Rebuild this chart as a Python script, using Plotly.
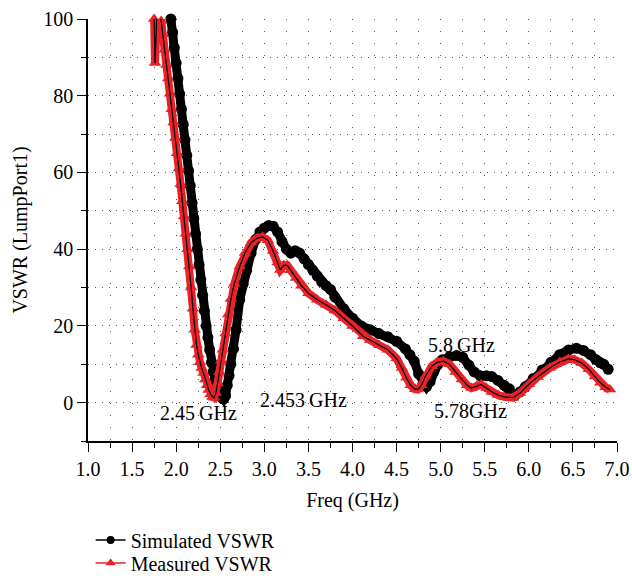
import plotly.graph_objects as go

# Simulated VSWR (LumpPort1) vs frequency, GHz
sim_freq = [1.94, 1.96, 1.98, 2.00, 2.02, 2.04, 2.06, 2.08, 2.10, 2.12, 2.14, 2.16, 2.18,
            2.20, 2.22, 2.24, 2.26, 2.28, 2.30, 2.32, 2.34, 2.36, 2.38, 2.40, 2.42, 2.44,
            2.46, 2.48, 2.50, 2.52, 2.54, 2.56, 2.58, 2.60, 2.62, 2.65, 2.68, 2.72, 2.76,
            2.80, 2.85, 2.90, 2.95, 3.00, 3.05, 3.10, 3.15, 3.20, 3.25, 3.30, 3.35, 3.40,
            3.45, 3.50, 3.55, 3.60, 3.65, 3.70, 3.75, 3.80, 3.90, 4.00, 4.10, 4.20, 4.30,
            4.40, 4.50, 4.60, 4.65, 4.70, 4.75, 4.80, 4.84, 4.88, 4.92, 4.97, 5.02, 5.10,
            5.18, 5.25, 5.32, 5.38, 5.45, 5.52, 5.58, 5.65, 5.72, 5.78, 5.84, 5.90, 5.96,
            6.05, 6.15, 6.25, 6.35, 6.45, 6.54, 6.62, 6.70, 6.76, 6.81, 6.85, 6.90]
sim_vswr = [100.0, 96.5, 92.5, 88.5, 84.5, 80.5, 76.5, 72.5, 68.5, 64.5, 60.5, 56.5, 52.0,
            48.0, 44.0, 40.0, 36.0, 32.0, 28.0, 24.0, 20.0, 17.0, 13.8, 10.5, 8.0, 6.0,
            4.5, 3.0, 2.0, 1.2, 1.0, 1.8, 4.5, 7.0, 10.0, 14.0, 19.0, 26.8, 31.0,
            34.5, 39.0, 42.5, 44.5, 45.5, 46.2, 46.0, 44.5, 42.0, 40.0, 39.0, 39.6, 39.0,
            37.5, 36.0, 34.5, 33.0, 31.5, 30.5, 29.5, 27.5, 24.5, 22.0, 20.0, 19.0, 18.0,
            17.2, 16.0, 14.0, 12.5, 10.8, 7.5, 5.0, 4.2, 5.5, 8.0, 10.0, 11.2, 12.0,
            12.3, 11.8, 9.8, 8.0, 7.0, 7.0, 6.8, 5.8, 4.5, 3.6, 1.8, 2.8, 4.2,
            6.3, 8.5, 10.5, 12.5, 13.7, 14.2, 13.6, 12.5, 11.2, 10.4, 10.0, 8.7]

# Measured VSWR vs frequency, GHz
meas_freq = [1.75, 1.76, 1.78, 1.81, 1.83, 1.85, 1.87, 1.89, 1.91, 1.93, 1.95, 1.97, 1.99,
             2.01, 2.03, 2.05, 2.07, 2.09, 2.11, 2.13, 2.15, 2.17, 2.19, 2.21, 2.23, 2.25,
             2.27, 2.29, 2.31, 2.33, 2.35, 2.37, 2.39, 2.41, 2.43, 2.45, 2.47, 2.49, 2.51,
             2.53, 2.56, 2.59, 2.62, 2.66, 2.72, 2.78, 2.85, 2.92, 2.98, 3.04, 3.10, 3.15,
             3.18, 3.22, 3.26, 3.30, 3.36, 3.42, 3.50, 3.60, 3.70, 3.80, 3.90, 4.00, 4.12,
             4.20, 4.30, 4.40, 4.50, 4.56, 4.61, 4.66, 4.71, 4.74, 4.78, 4.83, 4.90, 4.96,
             5.03, 5.10, 5.17, 5.24, 5.30, 5.35, 5.41, 5.46, 5.52, 5.58, 5.65, 5.72, 5.82,
             5.90, 6.00, 6.10, 6.24, 6.35, 6.45, 6.52, 6.60, 6.68, 6.75, 6.81, 6.87, 6.92]
meas_vswr = [100.0, 88.5, 101.0, 101.0, 99.5, 96.0, 92.0, 88.0, 84.5, 80.5, 76.5, 73.0, 69.0,
             65.0, 61.0, 57.0, 52.5, 48.5, 44.0, 40.0, 35.5, 30.0, 24.5, 19.0, 15.0, 12.5,
             10.5, 9.0, 7.7, 6.0, 4.5, 3.3, 2.2, 1.5, 1.3, 2.5, 5.0, 8.0, 11.0,
             13.8, 18.0, 23.0, 27.0, 31.0, 35.5, 39.0, 41.7, 42.9, 43.2, 42.3, 39.5, 36.5,
             34.6, 35.8, 35.8, 34.5, 32.5, 30.5, 28.5, 26.8, 25.5, 24.0, 22.0, 20.0, 17.3,
             16.3, 15.0, 13.8, 11.5, 9.0, 6.5, 4.5, 3.5, 3.4, 4.5, 7.0, 9.5, 10.5,
             10.8, 10.0, 8.0, 6.0, 4.5, 3.8, 4.4, 4.7, 3.8, 2.8, 2.0, 1.5, 1.3,
             2.5, 4.8, 6.7, 9.1, 10.6, 11.4, 11.2, 10.3, 8.7, 6.8, 5.2, 4.0, 3.4]

x_ticks = [1.0, 1.5, 2.0, 2.5, 3.0, 3.5, 4.0, 4.5, 5.0, 5.5, 6.0, 6.5, 7.0]
y_ticks = [0, 20, 40, 60, 80, 100]

# Frequency callouts: (text, freq, vswr position)
callout_text = ["2.45\u2009GHz", "2.453\u2009GHz", "5.8\u2009GHz", "5.78GHz"]
callout_freq = [2.248, 3.44, 5.238, 5.342]
callout_vswr = [-2.6, 0.6, 15.1, -2.3]

RED = "#ea2228"
FONT = "Liberation Serif"

fig = go.Figure()

# simulated: thick black band of circles
fig.add_trace(go.Scatter(
    x=sim_freq, y=sim_vswr, mode="lines+markers",
    line=dict(color="black", width=9),
    marker=dict(symbol="circle", size=11, color="black"),
    cliponaxis=False, showlegend=False, hoverinfo="skip"))

# measured: red band of triangles with thin black centre line
fig.add_trace(go.Scatter(
    x=meas_freq, y=meas_vswr, mode="lines+markers",
    line=dict(color=RED, width=8),
    marker=dict(symbol="triangle-up", size=11, color=RED),
    cliponaxis=False, showlegend=False, hoverinfo="skip"))
fig.add_trace(go.Scatter(
    x=meas_freq, y=meas_vswr, mode="lines",
    line=dict(color="black", width=1.2),
    showlegend=False, hoverinfo="skip"))

# legend entries, one legend box each so the rows sit close together
fig.add_trace(go.Scatter(
    x=[None], y=[None], mode="lines+markers", name="Simulated VSWR",
    line=dict(color="black", width=1.5),
    marker=dict(symbol="circle", size=8, color="black"), legend="legend"))
fig.add_trace(go.Scatter(
    x=[None], y=[None], mode="lines+markers", name="Measured VSWR",
    line=dict(color=RED, width=1.5),
    marker=dict(symbol="triangle-up", size=9, color=RED), legend="legend2"))

for t, fx, fy in zip(callout_text, callout_freq, callout_vswr):
    fig.add_annotation(x=fx, y=fy, text=t, showarrow=False,
                       font=dict(family=FONT, size=20, color="black"))

grid_col = "#555555"
fig.update_xaxes(
    range=[1, 7], tickvals=x_ticks, ticktext=[f"{v:.1f}" for v in x_ticks],
    showline=True, linecolor="black", linewidth=1.5,
    ticks="outside", ticklen=9, tickwidth=1.2, tickcolor="black",
    showgrid=True, gridcolor=grid_col, gridwidth=1, griddash="1px,11px",
    minor=dict(dtick=0.25, ticks="outside", ticklen=5, tickcolor="black",
               showgrid=True, gridcolor=grid_col, gridwidth=1, griddash="1px,11px"),
    zeroline=False,
    title=dict(text="Freq (GHz)", font=dict(family=FONT, size=20, color="black"), standoff=14),
    tickfont=dict(family=FONT, size=20, color="black"),
)
fig.update_yaxes(
    range=[-10, 100], tickvals=y_ticks,
    showline=True, linecolor="black", linewidth=1.5,
    ticks="outside", ticklen=9, tickwidth=1.2, tickcolor="black",
    showgrid=True, gridcolor=grid_col, gridwidth=1, griddash="1px,6px",
    minor=dict(dtick=10, ticks="outside", ticklen=5, tickcolor="black",
               showgrid=True, gridcolor=grid_col, gridwidth=1, griddash="1px,6px"),
    zeroline=False,
    title=dict(text="VSWR (LumpPort1)", font=dict(family=FONT, size=20, color="black"), standoff=10),
    tickfont=dict(family=FONT, size=20, color="black"),
)

legend_style = dict(xanchor="left", yanchor="middle",
                    font=dict(family=FONT, size=20, color="black"),
                    bgcolor="rgba(0,0,0,0)", itemwidth=30)
fig.update_layout(
    width=632, height=576,
    margin=dict(l=88, r=15, t=19, b=135, autoexpand=False),
    paper_bgcolor="white", plot_bgcolor="white",
    font=dict(family=FONT, size=20, color="black"),
    legend=dict(x=0.005, y=-0.2346, **legend_style),
    legend2=dict(x=0.005, y=-0.289, **legend_style),
)

fig.write_html("out.html")
